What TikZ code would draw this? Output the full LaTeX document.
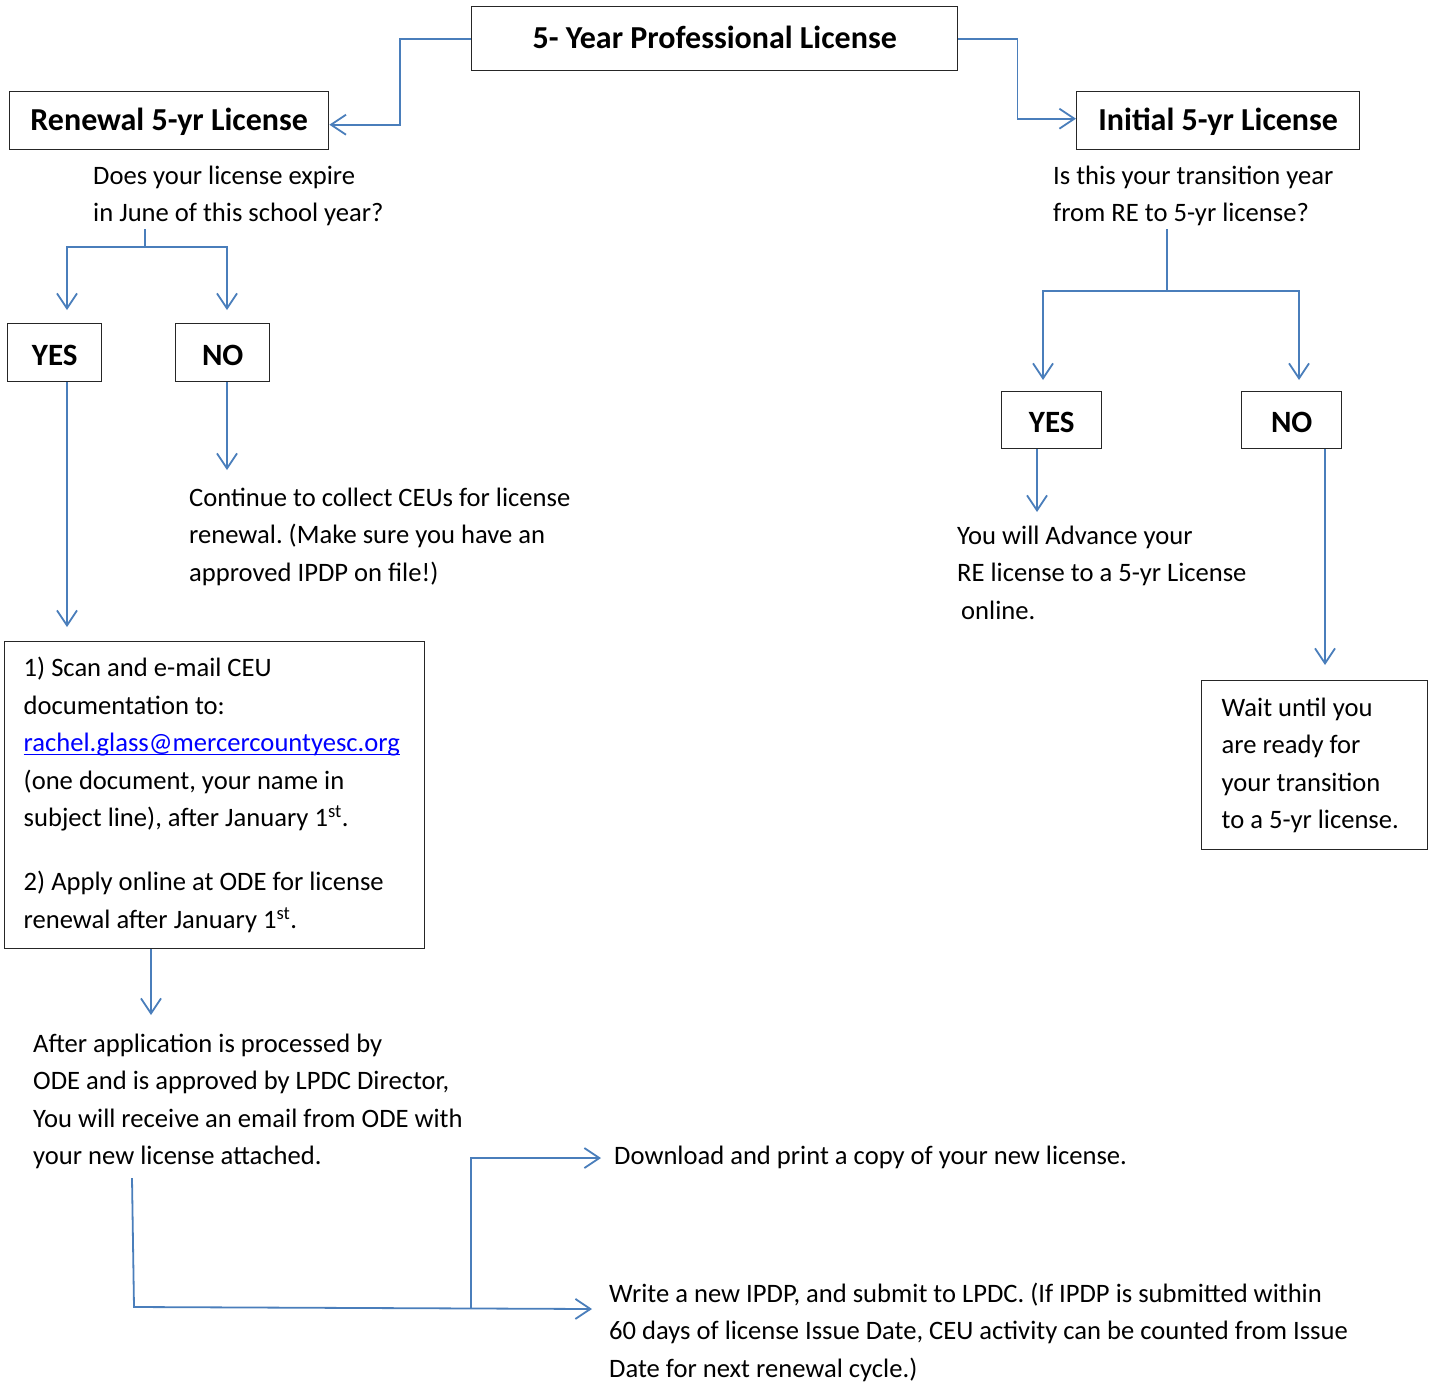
\documentclass[tikz,border=0pt]{standalone}
\usepackage{fontspec}
\setmainfont{Carlito}
\usetikzlibrary{arrows.meta}
\definecolor{conncol}{HTML}{4A7EBB}
\definecolor{boxline}{HTML}{262626}
\definecolor{linkblue}{HTML}{0000FF}
\newcommand\bodyfont{\fontsize{26.6}{37.5}\selectfont\frenchspacing}
\newcommand\headfont{\fontsize{32}{38}\selectfont\bfseries}
\newcommand\ynfont{\fontsize{31}{37}\selectfont\bfseries}
\newcommand\myul[1]{\leavevmode\setbox0\hbox{#1}\rlap{\rule[-3pt]{\wd0}{1.3pt}}\box0}
\tikzset{
  frame/.style={draw=boxline, line width=1.4pt, inner sep=0pt, anchor=north west},
  hbox/.style={frame, font=\headfont, text height=27pt, text depth=6.5pt},
  ynbox/.style={frame, font=\ynfont, text height=25pt, text depth=0pt},
  tbox/.style={frame, font=\bodyfont, align=flush left},
  txt/.style={anchor=north west, inner sep=0pt, align=left, font=\bodyfont},
  link/.style={draw=conncol, line width=1.8pt},
  arr/.style={link, -{Straight Barb[length=15pt,width=20pt]}}
}
\begin{document}
\begin{tikzpicture}[x=1pt,y=-1pt]
\useasboundingbox (0,0) rectangle (1433,1382);
% boxes
\node[hbox, minimum width=486pt, minimum height=64pt] (top) at (471,6) {5- Year Professional License};
\node[hbox, minimum width=319pt, minimum height=58pt] (ren) at (9,91) {Renewal 5-yr License};
\node[hbox, minimum width=283pt, minimum height=58pt] (ini) at (1076,91) {Initial 5-yr License};
\node[ynbox, minimum width=94pt, minimum height=58pt] (yesL) at (7,323) {YES};
\node[ynbox, minimum width=94pt, minimum height=58pt] (noL) at (175,323) {NO};
\node[ynbox, minimum width=100pt, minimum height=57pt] (yesR) at (1001,391) {YES};
\node[ynbox, minimum width=100pt, minimum height=57pt] (noR) at (1241,391) {NO};
\node[tbox, minimum width=420pt, minimum height=307pt, text width=382pt, inner xsep=19pt] (steps) at (4,641)
  {\strut 1) Scan and e-mail CEU\\documentation to:\\\textcolor{linkblue}{\myul{rachel.glass@mercercountyesc.org}}\\(one document, your name in\\subject line), after January 1\textsuperscript{st}.\\[26.5pt]2) Apply online at ODE for license\\renewal after January 1\textsuperscript{st}.\strut};
\node[tbox, minimum width=226pt, minimum height=169pt, text width=186pt, inner xsep=20pt] (wait) at (1201,680)
  {\strut Wait until you\\are ready for\\your transition\\to a 5-yr license.\strut};
% free texts
\node[txt] (q1) at (93,158) {\strut Does your license expire\\in June of this school year?};
\node[txt] (q2) at (1053,158) {\strut Is this your transition year\\from RE to 5-yr license?};
\node[txt] (cont) at (189,480) {\strut Continue to collect CEUs for license\\renewal. (Make sure you have an\\approved IPDP on file!)};
\node[txt] (adv) at (957,518) {\strut You will Advance your\\RE license to a 5-yr License\\\hspace*{4pt}online.};
\node[txt] (after) at (33,1026) {\strut After application is processed by\\ODE and is approved by LPDC Director,\\You will receive an email from ODE with\\your new license attached.};
\node[txt] (dl) at (614,1138) {\strut Download and print a copy of your new license.};
\node[txt] (write) at (609,1276) {\strut Write a new IPDP, and submit to LPDC. (If IPDP is submitted within\\60 days of license Issue Date, CEU activity can be counted from Issue\\Date for next renewal cycle.)};
% connector points
\coordinate (q1out) at (145,229);
\coordinate (q1j) at (145,247);
\coordinate (yesLtip) at (67,310);
\coordinate (noLtip) at (227,310);
\coordinate (q2out) at (1167,229);
\coordinate (q2j) at (1167,291);
\coordinate (yesRtip) at (1043,380);
\coordinate (noRtip) at (1299,380);
\coordinate (bigTip) at (67,627);
\coordinate (contTip) at (227,470);
\coordinate (advTip) at (1037,512);
\coordinate (waitTip) at (1325,665);
\coordinate (afterTip) at (151,1015);
\coordinate (afterOut) at (132,1178);
\coordinate (corner) at (134,1307);
\coordinate (branch) at (471,1308);
\coordinate (dlTip) at (601,1158);
\coordinate (writeTip) at (592,1309);
% connectors
\draw[arr] (top.west) -- ++(-71,0) |- ([yshift=-4pt]ren.east);
\draw[arr] (top.east) -- ++(59,0) |- ([yshift=2pt]ini.west);
\draw[link] (q1out) -- (q1j);
\draw[arr] (q1j) -| (yesLtip);
\draw[arr] (q1j) -| (noLtip);
\draw[link] (q2out) -- (q2j);
\draw[arr] (q2j) -| (yesRtip);
\draw[arr] (q2j) -| (noRtip);
\draw[arr] (yesL.south -| bigTip) -- (bigTip);
\draw[arr] (noL.south -| contTip) -- (contTip);
\draw[arr] (yesR.south -| advTip) -- (advTip);
\draw[arr] (noR.south -| waitTip) -- (waitTip);
\draw[arr] (steps.south -| afterTip) -- (afterTip);
\draw[arr] (afterOut) -- (corner) -- (writeTip);
\draw[arr] (branch) |- (dlTip);
\end{tikzpicture}
\end{document}
